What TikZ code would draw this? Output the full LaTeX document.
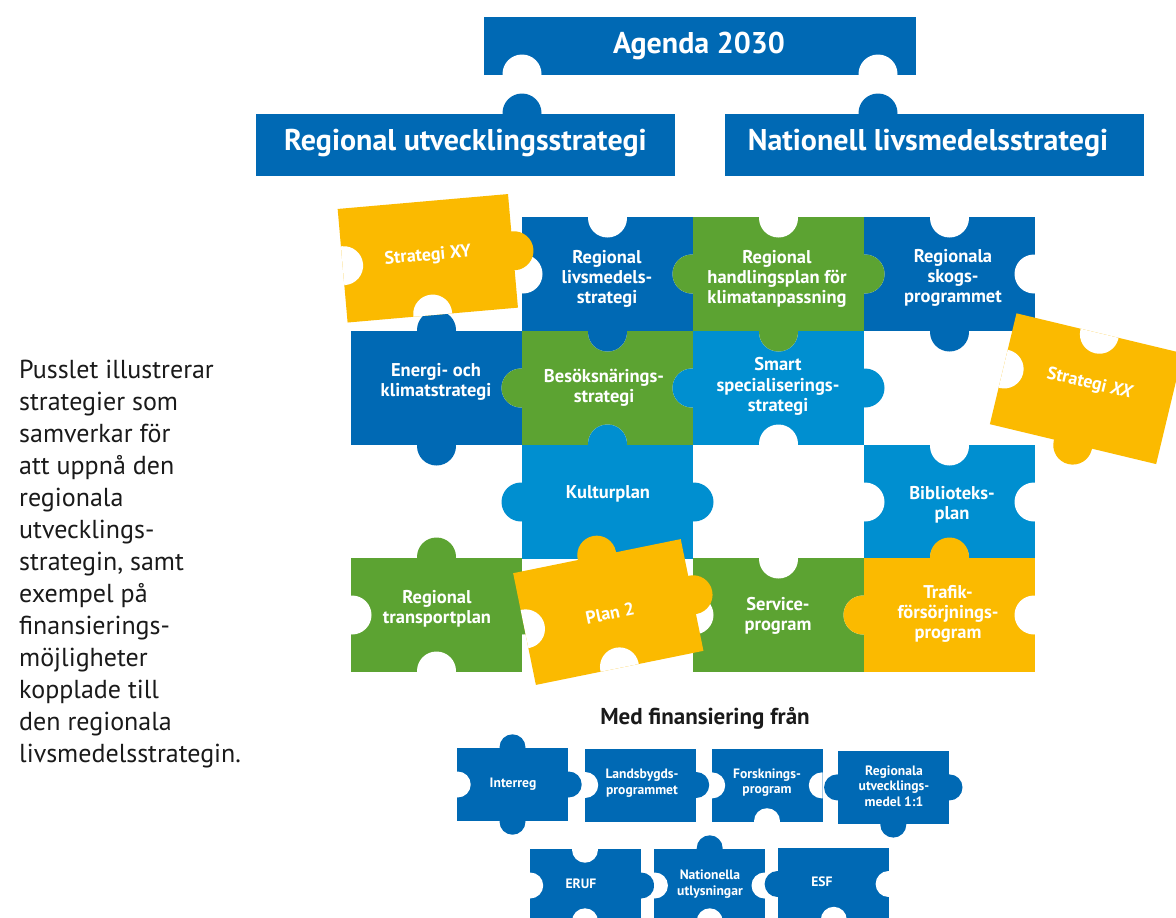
\documentclass[tikz,border=0pt]{standalone}
\usepackage{fontspec}
\setmainfont{PT Sans}
\definecolor{dblue}{HTML}{0069B4}
\definecolor{lblue}{HTML}{008FD0}
\definecolor{pgreen}{HTML}{5CA332}
\definecolor{pyellow}{HTML}{FBBA00}
\definecolor{ink}{HTML}{1A1A1A}
\def\PW{171}\def\PH{114}\def\PR{19.5}\def\PD{1}
% body + holes: #1 cx, #2 cy, #3 rot, #4 colour, #5 T, #6 R, #7 B, #8 L  (1 knob, -1 hole, 0 flat)
\newcommand{\PzA}[8]{%
 \begin{scope}[shift={(#1,#2)},rotate=#3]
  \fill[#4] (-\PW/2,-\PH/2) rectangle (\PW/2,\PH/2);
  \begin{scope}
   \clip (-\PW/2,-\PH/2) rectangle (\PW/2,\PH/2);
   \ifnum#5<0 \fill[white] (0,-\PH/2+\PD) circle[radius=\PR pt];\fi
   \ifnum#6<0 \fill[white] (\PW/2-\PD,0) circle[radius=\PR pt];\fi
   \ifnum#7<0 \fill[white] (0,\PH/2-\PD) circle[radius=\PR pt];\fi
   \ifnum#8<0 \fill[white] (-\PW/2+\PD,0) circle[radius=\PR pt];\fi
  \end{scope}
 \end{scope}}
% knobs
\newcommand{\PzB}[8]{%
 \begin{scope}[shift={(#1,#2)},rotate=#3]
   \ifnum#5>0 \fill[#4] (0,-\PH/2-\PD) circle[radius=\PR pt];\fi
   \ifnum#6>0 \fill[#4] (\PW/2+\PD,0) circle[radius=\PR pt];\fi
   \ifnum#7>0 \fill[#4] (0,\PH/2+\PD) circle[radius=\PR pt];\fi
   \ifnum#8>0 \fill[#4] (-\PW/2-\PD,0) circle[radius=\PR pt];\fi
 \end{scope}}
\newcommand{\PzC}[8]{\PzA{#1}{#2}{#3}{#4}{#5}{#6}{#7}{#8}\PzB{#1}{#2}{#3}{#4}{#5}{#6}{#7}{#8}}
\tikzset{
 plbl/.style={text=white, font=\bfseries\fontsize{18.5}{20.3}\selectfont, align=center, inner sep=0pt},
 slbl/.style={text=white, font=\bfseries\fontsize{13.6}{15.5}\selectfont, align=center, inner sep=0pt},
 hlbl/.style={text=white, font=\bfseries\fontsize{30}{34}\selectfont, inner sep=0pt},
}
\begin{document}
\begin{tikzpicture}[x=1pt,y=-1pt]
\clip (0,0) rectangle (1176,918);
\fill[white] (0,0) rectangle (1176,918);
% ---------- top boxes ----------
\fill[dblue] (484,17) rectangle (916,75);
\begin{scope}
 \clip (484,17) rectangle (916,75);
 \fill[white] (522,75-\PD) circle[radius=\PR pt];
 \fill[white] (878,75-\PD) circle[radius=\PR pt];
\end{scope}
\fill[dblue] (256,114) rectangle (675,176);
\fill[dblue] (522,114-\PD) circle[radius=\PR pt];
\fill[dblue] (725,114) rectangle (1144,176);
\fill[dblue] (878,114-\PD) circle[radius=\PR pt];
\node[hlbl] (agenda) at (699,46) {Agenda 2030};
\node[hlbl] (rus) at (465.5,143) {Regional utvecklingsstrategi};
\node[hlbl] (nls) at (928,143) {Nationell livsmedelsstrategi};
% ---------- grid: bodies and holes ----------
\PzA{607.5}{274}{0}{dblue}{-1}{-1}{1}{-1}
\PzA{778.5}{274}{0}{pgreen}{-1}{1}{1}{1}
\PzA{949.5}{274}{0}{dblue}{-1}{-1}{1}{-1}
\PzA{436.5}{388}{0}{dblue}{1}{-1}{1}{0}
\PzA{607.5}{388}{0}{pgreen}{-1}{-1}{-1}{1}
\PzA{778.5}{388}{0}{lblue}{-1}{1}{-1}{1}
\PzA{607.5}{502}{0}{lblue}{1}{1}{0}{1}
\PzA{949.5}{502}{0}{lblue}{-1}{-1}{-1}{-1}
\PzA{436.5}{615}{0}{pgreen}{1}{1}{-1}{-1}
\PzA{778.5}{615}{0}{pgreen}{-1}{-1}{0}{-1}
\PzA{949.5}{615}{0}{pyellow}{1}{-1}{0}{1}
% ---------- grid: knobs ----------
\PzB{607.5}{274}{0}{dblue}{-1}{-1}{1}{-1}
\PzB{778.5}{274}{0}{pgreen}{-1}{1}{1}{1}
\PzB{949.5}{274}{0}{dblue}{-1}{-1}{1}{-1}
\PzB{436.5}{388}{0}{dblue}{1}{-1}{1}{0}
\PzB{607.5}{388}{0}{pgreen}{-1}{-1}{-1}{1}
\PzB{778.5}{388}{0}{lblue}{-1}{1}{-1}{1}
\PzB{607.5}{502}{0}{lblue}{1}{1}{0}{1}
\PzB{949.5}{502}{0}{lblue}{-1}{-1}{-1}{-1}
\PzB{436.5}{615}{0}{pgreen}{1}{1}{-1}{-1}
\PzB{778.5}{615}{0}{pgreen}{-1}{-1}{0}{-1}
\PzB{949.5}{615}{0}{pyellow}{1}{-1}{0}{1}
% ---------- loose yellow pieces ----------
\PzC{427.8}{258.3}{5}{pyellow}{0}{1}{-1}{-1}
\PzC{1086.3}{388.7}{-13.5}{pyellow}{-1}{0}{1}{-1}
\PzC{608.3}{612}{11.5}{pyellow}{1}{1}{-1}{-1}
% ---------- grid labels ----------
\node[plbl] (rls) at (607,279) {Regional\\livsmedels-\\strategi};
\node[plbl] (rhk) at (777,279) {Regional\\handlingsplan för\\klimatanpassning};
\node[plbl] (rsp) at (953,278) {Regionala\\skogs-\\programmet};
\node[plbl] (eks) at (436,382) {Energi- och\\klimatstrategi};
\node[plbl] (bns) at (604,387.5) {Besöksnärings-\\strategi};
\node[plbl] (sss) at (778,386.5) {Smart\\specialiserings-\\strategi};
\node[plbl] (kul) at (608,494) {Kulturplan};
\node[plbl] (bib) at (952,505) {Biblioteks-\\plan};
\node[plbl] (rtp) at (437,609) {Regional\\transportplan};
\node[plbl] (svc) at (778,616) {Service-\\program};
\node[plbl] (tfp) at (948,614) {Trafik-\\försörjnings-\\program};
\node[plbl, font=\bfseries\fontsize{18}{20}\selectfont, rotate=5] (sxy) at (428,256) {Strategi XY};
\node[plbl, font=\bfseries\fontsize{18}{20}\selectfont, rotate=-13.5] (sxx) at (1090,384) {Strategi \textit{XX}};
\node[plbl, font=\bfseries\fontsize{18}{20}\selectfont, rotate=11.5] (pl2) at (610,613) {Plan 2};
% ---------- financing ----------
\node[font=\bfseries\fontsize{23}{26}\selectfont, text=ink, inner sep=0pt] (fin) at (705,718) {Med finansiering från};
\def\PW{111}\def\PH{73}\def\PR{13}\def\PD{0.7}
\PzC{512.5}{784.5}{0}{dblue}{1}{1}{1}{-1}
\PzC{640}{785}{0}{dblue}{0}{1}{0}{-1}
\PzC{767}{785.4}{0}{dblue}{0}{-1}{-1}{-1}
\PzC{893.3}{787.4}{0}{dblue}{0}{1}{1}{1}
\PzC{585}{885.5}{0}{dblue}{-1}{1}{-1}{-1}
\PzC{709.7}{885.5}{0}{dblue}{1}{-1}{-1}{-1}
\PzC{833.8}{884}{0}{dblue}{0}{-1}{-1}{1}
\node[slbl] (irg) at (513,784) {Interreg};
\node[slbl] (lbp) at (642,783) {Landsbygds-\\programmet};
\node[slbl] (fop) at (767,782.5) {Forsknings-\\program};
\node[slbl] (rum) at (894,786) {Regionala\\utvecklings-\\medel 1:1};
\node[slbl] (eruf) at (581,884) {ERUF};
\node[slbl] (nut) at (710,884) {Nationella\\utlysningar};
\node[slbl] (esf) at (822,882) {ESF};
% ---------- description ----------
\node[anchor=north west, align=left, inner sep=0pt, text=ink,
      font=\fontsize{26}{32}\selectfont] (desc) at (19,360)
 {Pusslet illustrerar\\strategier som\\samverkar för\\att uppnå den\\regionala\\utvecklings-\\strategin, samt\\exempel på\\finansierings-\\möjligheter\\kopplade till\\den regionala\\livsmedelsstrategin.};
\end{tikzpicture}
\end{document}
